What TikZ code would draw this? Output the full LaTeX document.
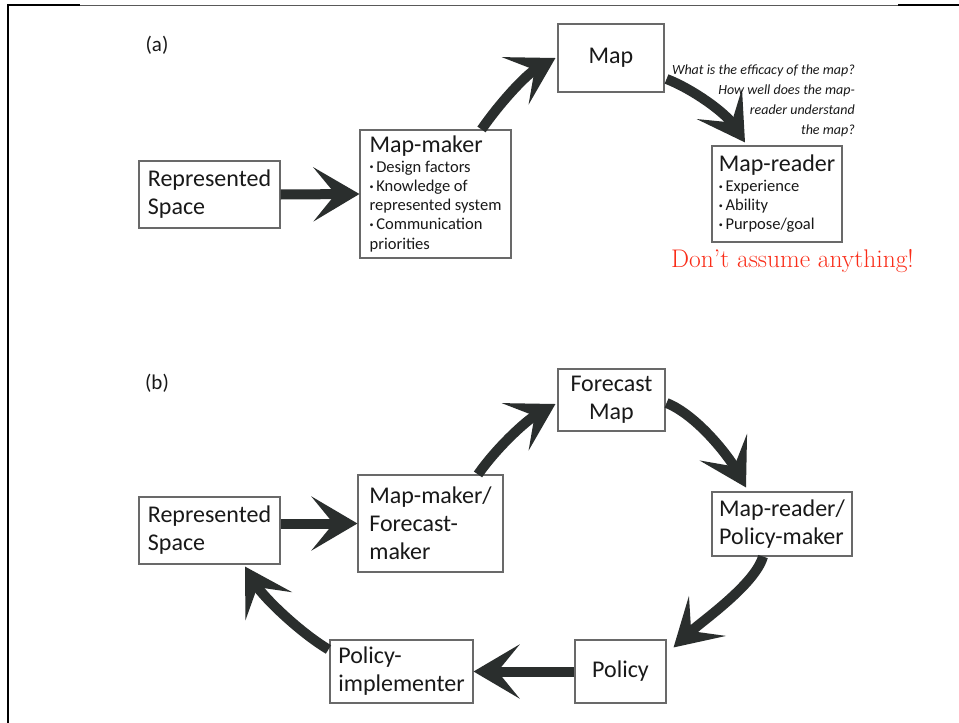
\documentclass[tikz,border=0pt]{standalone}
\usepackage{fontspec}
\setsansfont{Carlito}
\usetikzlibrary{arrows.meta}
\definecolor{arrowc}{RGB}{42,46,45}
\definecolor{boxc}{RGB}{105,105,105}
\definecolor{redc}{RGB}{250,45,25}
\definecolor{txtc}{RGB}{25,25,25}
\newcommand\bul{\raisebox{0.28ex}{\fontsize{8}{8}\selectfont\textbullet}\,}
\begin{document}
\begin{tikzpicture}[x=1pt,y=-1pt,
  every node/.style={font=\sffamily, text=txtc},
  box/.style={draw=boxc, line width=1.1pt, inner sep=0pt, fill=white, align=left},
  big/.style={font=\sffamily\fontsize{24}{28}\selectfont},
  small/.style={font=\sffamily\fontsize{16.5}{19.3}\selectfont},
  flow/.style={draw=arrowc, line width=10pt, -{Stealth[length=46pt,width=54pt,inset=22pt]}}
]
\fill[white] (0,0) rectangle (959,723);
\useasboundingbox (0,0) rectangle (959,723);
% frame
\draw[line width=1pt, black!65] (80,5.5) -- (898,5.5);
\draw[line width=2pt, black] (8,5) -- (80,5);
\draw[line width=2pt, black] (898,5) -- (959,5);
\draw[line width=2pt, black] (8,4) -- (8,723);

% labels
\node[font=\sffamily\fontsize{21}{21}\selectfont] (la) at (157,45) {(a)};
\node[font=\sffamily\fontsize{21}{21}\selectfont] (lb) at (157,383) {(b)};

% (a)
\node[box, big, minimum width=141pt, minimum height=67pt] (RSa) at (209.5,194.5) {Represented\\Space};
\node[box, small, minimum width=151pt, minimum height=128pt] (MMa) at (435.5,194) {{\fontsize{24}{24}\selectfont Map-maker}\\\bul Design factors\\\bul Knowledge of\\represented system\\\bul Communication\\priorities};
\node[box, big, align=center, minimum width=106pt, minimum height=68pt] (Mapa) at (611,58) {Map};
\node[box, small, minimum width=130pt, minimum height=96pt] (MRa) at (777,194) {{\fontsize{24}{24}\selectfont Map-reader}\\\bul Experience\\\bul Ability\\\bul Purpose/goal};

\draw[flow] (RSa.east) -- (MMa.west);
\draw[flow] ([xshift=46pt]MMa.north) .. controls +(18,-26) and +(-30,17) .. ([xshift=-2pt]Mapa.west);
\draw[flow] ([xshift=2pt,yshift=-21pt]Mapa.east) .. controls +(26,10) and +(-20,-30) .. ([xshift=-32pt,yshift=3pt]MRa.north);

\node[anchor=north east, align=right, inner sep=0pt, font=\sffamily\itshape\fontsize{14}{20}\selectfont] (q) at (855,65) {What is the efficacy of the map?\\How well does the map-\\reader understand\\the map?};
\node[anchor=base west, inner sep=0pt, text=redc, font=\rmfamily\fontsize{25.5}{25.5}\selectfont] (warn) at (671,267) {Don’t assume anything!};

% (b)
\node[box, big, minimum width=141pt, minimum height=67pt] (RSb) at (209.5,530.5) {Represented\\Space};
\node[box, big, minimum width=145pt, minimum height=97pt] (MMb) at (430.5,523.5) {Map-maker/\\Forecast-\\maker};
\node[box, big, align=center, minimum width=107pt, minimum height=62pt] (FMb) at (611.5,400) {Forecast\\Map};
\node[box, big, minimum width=140pt, minimum height=64pt] (MRb) at (782,524) {Map-reader/\\Policy-maker};
\node[box, big, align=center, minimum width=91pt, minimum height=63pt] (Pol) at (620.5,671.5) {Policy};
\node[box, big, minimum width=143pt, minimum height=63pt] (PI) at (401.5,671.5) {Policy-\\implementer};

\draw[flow] (RSb.east |- MMb.west) -- (MMb.west);
\draw[flow] ([xshift=47.5pt]MMb.north) .. controls +(18,-26) and +(-30,17) .. ([xshift=-2pt,yshift=-4pt]FMb.west);
\draw[flow] ([xshift=1pt,yshift=-3pt]FMb.east) .. controls +(30,12) and +(-18,-32) .. ([xshift=-36pt,yshift=4pt]MRb.north);
\draw[flow] ([xshift=-19pt]MRb.south) .. controls +(-8,28) and +(28,-26) .. ([xshift=7pt,yshift=-8pt]Pol.north east);
\draw[flow] (Pol.west) -- (PI.east);
\draw[flow] ([xshift=-1pt,yshift=-10pt]PI.north west) .. controls +(-30,-18) and +(18,30) .. ([xshift=35.5pt,yshift=-2pt]RSb.south);
\end{tikzpicture}
\end{document}
